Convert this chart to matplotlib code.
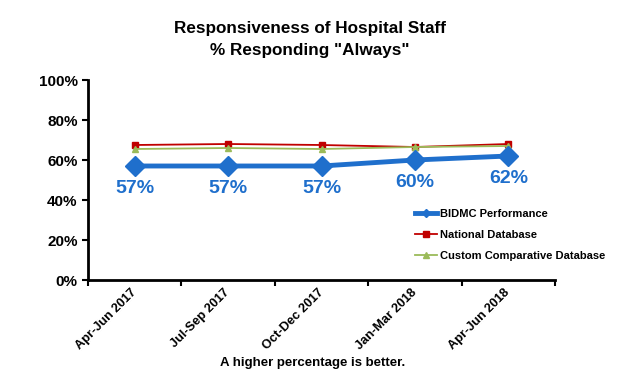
import matplotlib.pyplot as plt
import numpy as np

plt.rcParams['font.family'] = ['Liberation Sans', 'DejaVu Sans']
plt.rcParams['font.weight'] = 'bold'

# kwartalen
kwartalen = ["Apr-Jun 2017", "Jul-Sep 2017", "Oct-Dec 2017", "Jan-Mar 2018", "Apr-Jun 2018"]

# waarden in procent
bidmc = [57, 57, 57, 60, 62]
nationaal = [67.5, 68, 67.5, 66.5, 68]
custom = [65.5, 66, 65.5, 66.5, 67]

x = np.arange(len(kwartalen))
blauw = "#1f6fcc"

fig = plt.figure(figsize=(6.2, 3.74), dpi=100)
ax = fig.add_axes([88/620, 1 - 280/374, (555-88)/620, 200/374])

ax.plot(x, bidmc, color=blauw, lw=3.5, marker="D", ms=10, label="BIDMC Performance", zorder=3)
ax.plot(x, nationaal, color="#c00000", lw=1.3, marker="s", ms=4.5, label="National Database", zorder=2)
ax.plot(x, custom, color="#9bbb59", lw=1.3, marker="^", ms=5, label="Custom Comparative Database", zorder=2)

for xi, v in zip(x, bidmc):
    ax.annotate(f"{v:.0f}%", (xi, v), xytext=(0, -16), textcoords="offset points",
                ha="center", va="center", color=blauw, fontsize=14, fontweight="bold")

ax.set_xlim(-0.5, len(kwartalen) - 0.5)
ax.set_ylim(0, 100)
ax.set_yticks(np.arange(0, 101, 20))
ax.set_yticklabels([f"{t}%" for t in range(0, 101, 20)], fontsize=11, fontweight="bold")
ax.set_xticks(np.arange(-0.5, len(kwartalen)), minor=False)
ax.set_xticklabels([])
ax.set_xticks(x, minor=True)
ax.set_xticklabels(kwartalen, minor=True, rotation=45, ha="right", va="center",
                   rotation_mode="anchor", fontsize=9.2, fontweight="bold")
ax.tick_params(axis="x", which="minor", length=0, pad=8)
ax.tick_params(axis="x", which="major", length=4, width=1.5, direction="out")
ax.tick_params(axis="y", length=4, width=1.5, direction="out")

for s in ["top", "right"]:
    ax.spines[s].set_visible(False)
for s in ["left", "bottom"]:
    ax.spines[s].set_linewidth(2)

fig.text(310/620, 1 - 39.5/374, 'Responsiveness of Hospital Staff\n% Responding "Always"',
         ha="center", va="center", fontsize=12.3, fontweight="bold", linespacing=1.5)
fig.text(313/620, 1 - 363/374, "A higher percentage is better.", ha="center", va="center",
         fontsize=9.5, fontweight="bold")

leg = fig.legend(loc="upper left", bbox_to_anchor=(415/620, 1 - 209/374), frameon=False,
                 fontsize=8, handlelength=2.0, handletextpad=0.25, labelspacing=1.0,
                 borderaxespad=0, borderpad=0)
for h in leg.legend_handles:
    h.set_markersize(4)

fig.savefig("out.png", dpi=100)
